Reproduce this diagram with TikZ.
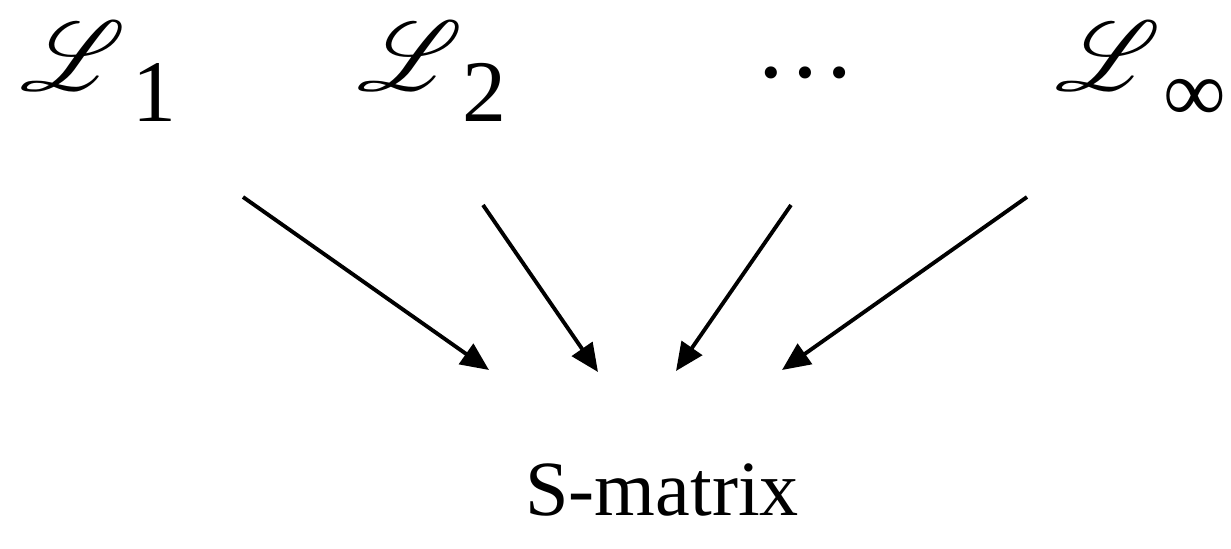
\documentclass[tikz,border=0pt]{standalone}
\usepackage{fontspec}
\setmainfont{Liberation Serif}
\usepackage{mathrsfs}
\DeclareFontFamily{U}{rsfs}{\skewchar\font127 }
\DeclareFontShape{U}{rsfs}{m}{n}{<-> rsfs10}{}
\usetikzlibrary{arrows.meta}
\newcommand\scrL{{\fontsize{56}{60}\selectfont\smash{$\mathscr{L}$}}}
\newcommand\subtxt[1]{{\fontsize{50}{56}\selectfont #1}}
\begin{document}
\begin{tikzpicture}[x=0.02cm,y=-0.02cm,
  lab/.style={inner sep=0pt, anchor=base west},
  conn/.style={line width=2.2pt, -{Triangle[length=16pt,width=14pt]}}]
\useasboundingbox (0,0) rectangle (1231,548);
% labels
\node[lab] (L1) at (20,90) {\scrL};
\node[lab] (s1) at (132,121) {\subtxt{1}};
\node[lab] (L2) at (357,90) {\scrL};
\node[lab] (s2) at (462,121) {\subtxt{2}};
\node[lab] (dots) at (754,77) {{\fontsize{58}{60}\selectfont\smash{…}}};
\node[lab] (Linf) at (1055,90) {\scrL};
\node[lab] (sinf) at (1163,121) {\subtxt{∞}};
\node[lab] (S) at (525,515) {{\fontsize{44.5}{50}\selectfont S‐matrix}};
% connector ends
\coordinate (a1s) at (243,197); \coordinate (a1e) at (489,370);
\coordinate (a2s) at (483,205); \coordinate (a2e) at (598,372);
\coordinate (a3s) at (791,205); \coordinate (a3e) at (676,371);
\coordinate (a4s) at (1027,197); \coordinate (a4e) at (782,370);
\draw[conn] (a1s) -- (a1e);
\draw[conn] (a2s) -- (a2e);
\draw[conn] (a3s) -- (a3e);
\draw[conn] (a4s) -- (a4e);
\end{tikzpicture}
\end{document}
